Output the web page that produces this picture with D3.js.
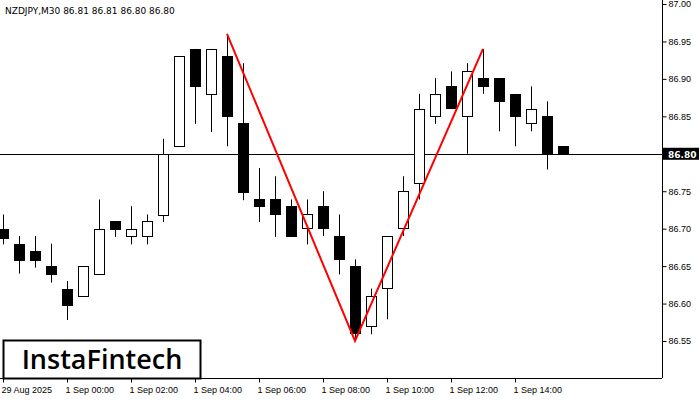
<!DOCTYPE html>
<html><head><meta charset="utf-8">
<script src="https://cdn.jsdelivr.net/npm/d3@7"></script>
<style>body{margin:0;background:#fff}svg{font-family:"DejaVu Sans",sans-serif}</style>
</head><body><div id="body"></div>
<script>
const opens  = [86.700,86.680,86.670,86.650,86.620,86.610,86.640,86.710,86.690,86.690,86.719,86.810,86.940,86.880,86.930,86.841,86.739,86.739,86.730,86.700,86.730,86.690,86.650,86.570,86.620,86.700,86.761,86.850,86.890,86.850,86.901,86.901,86.880,86.841,86.850,86.810];
const highs  = [86.719,86.690,86.690,86.680,86.630,86.650,86.739,86.710,86.730,86.719,86.820,86.930,86.940,86.940,86.960,86.921,86.781,86.770,86.739,86.739,86.750,86.719,86.659,86.620,86.690,86.770,86.880,86.901,86.910,86.921,86.940,86.901,86.880,86.890,86.870,86.810];
const lows   = [86.679,86.640,86.648,86.628,86.578,86.610,86.640,86.689,86.679,86.679,86.709,86.810,86.840,86.829,86.810,86.738,86.709,86.689,86.690,86.679,86.690,86.639,86.550,86.559,86.579,86.690,86.739,86.840,86.860,86.800,86.880,86.830,86.810,86.830,86.779,86.800];
const closes = [86.688,86.658,86.658,86.639,86.598,86.650,86.700,86.699,86.700,86.710,86.800,86.930,86.890,86.940,86.850,86.749,86.729,86.719,86.690,86.719,86.700,86.659,86.560,86.610,86.690,86.750,86.860,86.880,86.860,86.910,86.890,86.870,86.850,86.860,86.800,86.800];
const priceTicks = [87.00,86.95,86.90,86.85,86.75,86.70,86.65,86.60,86.55];
const timeLabels = [[0,"29 Aug 2025"],[4,"1 Sep 00:00"],[8,"1 Sep 02:00"],[12,"1 Sep 04:00"],[16,"1 Sep 06:00"],[20,"1 Sep 08:00"],[24,"1 Sep 10:00"],[28,"1 Sep 12:00"],[32,"1 Sep 14:00"]];
const pattern = [[14,86.960],[22,86.550],[30,86.940]];
const lastPrice = 86.80;

const W=700,H=400,R=662,B=378;
const svg=d3.select('#body').append('svg').attr('width',W).attr('height',H);
const x=d3.scaleLinear().domain([0,1]).range([3,19]);
const y=d3.scaleLinear().domain([86.55,87.00]).range([341,4]);

svg.append('line').attr('x1',R+0.5).attr('x2',R+0.5).attr('y1',0).attr('y2',B).attr('stroke','#000');
svg.append('line').attr('x1',0).attr('x2',R).attr('y1',B+0.5).attr('y2',B+0.5).attr('stroke','#000');

const yAxis=svg.append('g').attr('transform',`translate(${R+0.5},0)`)
  .call(d3.axisRight(y).tickValues(priceTicks).tickFormat(d3.format('.2f')).tickSize(4).tickPadding(2));
yAxis.select('.domain').remove();
yAxis.selectAll('text').attr('font-size',9).attr('fill','#000');

const xAxis=svg.append('g').attr('transform',`translate(0,${B+0.5})`)
  .call(d3.axisBottom(x).tickValues(timeLabels.map(d=>d[0])).tickFormat((d,i)=>timeLabels[i][1]).tickSize(4).tickPadding(4));
xAxis.select('.domain').remove();
xAxis.selectAll('text').attr('font-size',9).attr('fill','#000').attr('text-anchor','start').attr('dx',-2);

// last price line
svg.append('line').attr('x1',0).attr('x2',R).attr('y1',Math.round(y(lastPrice))+0.5).attr('y2',Math.round(y(lastPrice))+0.5).attr('stroke','#000');

const data=opens.map((o,i)=>({i,o,h:highs[i],l:lows[i],c:closes[i]}));
const g=svg.append('g');
g.selectAll('line.w').data(data).enter().append('line')
  .attr('x1',d=>x(d.i)+0.5).attr('x2',d=>x(d.i)+0.5)
  .attr('y1',d=>y(d.h)).attr('y2',d=>y(d.l)).attr('stroke','#000');
g.selectAll('rect.b').data(data).enter().append('rect')
  .attr('x',d=>x(d.i)-4.5).attr('width',10)
  .attr('y',d=>Math.round(y(Math.max(d.o,d.c)))+0.5)
  .attr('height',d=>Math.max(1,Math.round(Math.abs(y(d.o)-y(d.c)))))
  .attr('fill',d=>d.c>=d.o?'#fff':'#000').attr('stroke','#000');

svg.append('path').datum(pattern)
  .attr('d',d3.line().x(d=>x(d[0])).y(d=>y(d[1])))
  .attr('fill','none').attr('stroke','#f00').attr('stroke-width',2);

// current price tag
const ly=y(lastPrice);
svg.append('rect').attr('x',R+1).attr('y',ly-6).attr('width',36).attr('height',12).attr('fill','#000');
svg.append('text').attr('x',R+6).attr('y',ly+4).attr('font-size',9).attr('font-weight','bold').attr('fill','#fff').text('86.80');

svg.append('text').attr('x',5).attr('y',14).attr('font-size',9).attr('fill','#000').text('NZDJPY,M30  86.81 86.81 86.80 86.80');

svg.append('rect').attr('x',3.5).attr('y',340.5).attr('width',197).attr('height',38).attr('fill','#fff').attr('stroke','#000').attr('stroke-width',2);
svg.append('text').attr('x',102).attr('y',369).attr('text-anchor','middle').attr('font-size',27).attr('font-weight',600).attr('font-family','"Open Sans",sans-serif').attr('fill','#000').text('InstaFintech');
</script></body></html>
